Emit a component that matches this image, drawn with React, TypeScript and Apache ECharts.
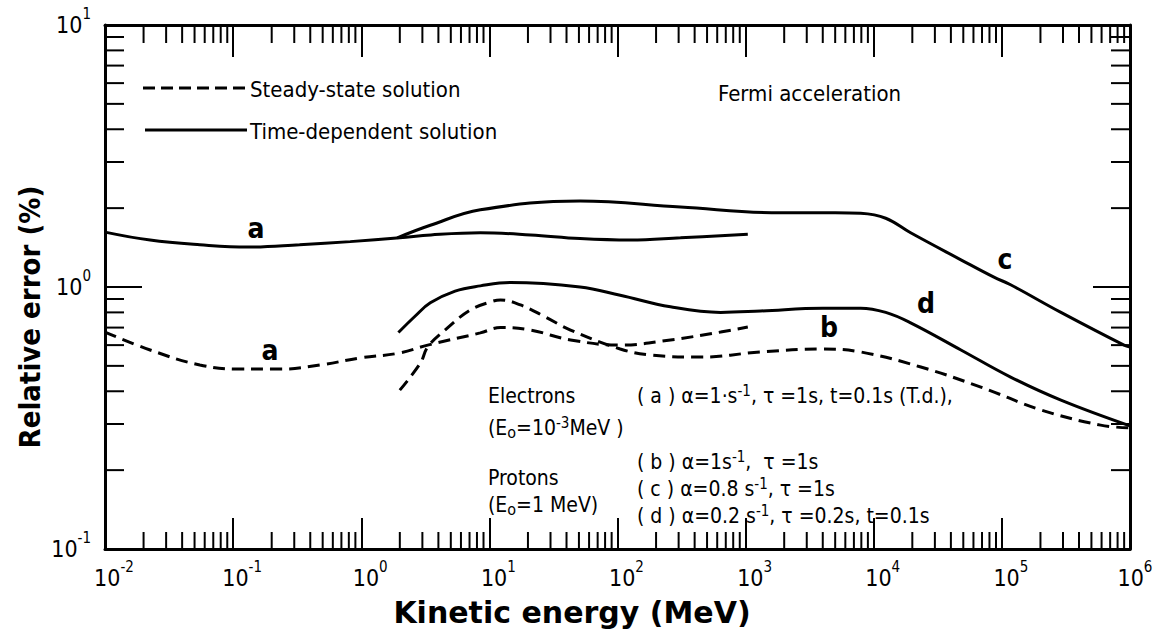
import React, { useEffect, useRef } from 'react';
import * as echarts from 'echarts';

// ---------- data ----------
const X_MIN = 0.01;
const X_MAX = 1e6;
const Y_MIN = 0.1;
const Y_MAX = 10;

const decadesX = [0.01, 0.1, 1, 10, 100, 1000, 10000, 100000];
const decadesY = [0.1, 1];
const minorMultipliers = [2, 3, 4, 5, 6, 7, 8, 9];

// (a) electrons, time-dependent (solid)
const tdA_E = [0.01, 0.0225, 0.055, 0.13, 0.33, 0.82, 2.0, 3.5, 8.5, 21, 51, 126, 310, 1040];
const tdA_err = [1.62, 1.51, 1.45, 1.42, 1.45, 1.49, 1.54, 1.58, 1.61, 1.58, 1.53, 1.51, 1.54, 1.59];

// (c) protons, time-dependent (solid)
const tdC_E = [1.91, 3.46, 8.5, 51, 310, 1875, 5000, 7900, 12400, 19400, 47900, 86700, 117000, 289000, 898000, 1e6];
const tdC_err = [1.54, 1.72, 1.97, 2.13, 2.02, 1.92, 1.92, 1.91, 1.83, 1.61, 1.27, 1.09, 1.02, 0.8, 0.6, 0.59];

// (d) protons, time-dependent (solid)
const tdD_E = [1.95, 2.64, 3.46, 5.4, 8.5, 14.6, 51, 105, 259, 638, 1310, 4000, 7900, 12400, 19400, 47900, 117000, 289000, 1e6];
const tdD_err = [0.67, 0.775, 0.87, 0.965, 1.01, 1.04, 1.0, 0.93, 0.84, 0.8, 0.81, 0.83, 0.83, 0.8, 0.73, 0.575, 0.453, 0.37, 0.295];

// (a) electrons, steady-state (dashed)
const ssA_E = [0.01, 0.0225, 0.055, 0.114, 0.233, 0.48, 0.98, 2.0, 3.3, 8.5, 12.2, 20.9, 43, 105, 259, 638, 1040];
const ssA_err = [0.673, 0.575, 0.504, 0.486, 0.486, 0.504, 0.536, 0.56, 0.6, 0.668, 0.7, 0.685, 0.628, 0.6, 0.628, 0.673, 0.703];

// (b) protons, steady-state (dashed)
const ssB_E = [2.0, 2.9, 3.3, 4.5, 7.1, 10.2, 12.2, 17.5, 27.4, 43, 105, 180, 445, 1310, 3850, 7900, 23300, 68500, 200000, 590000, 1e6];
const ssB_err = [0.404, 0.513, 0.59, 0.685, 0.817, 0.877, 0.892, 0.854, 0.768, 0.685, 0.58, 0.55, 0.54, 0.565, 0.58, 0.565, 0.495, 0.415, 0.34, 0.297, 0.29];

const FONT = "'DejaVu Sans Condensed', 'DejaVu Sans', sans-serif";

const pairs = (xs: number[], ys: number[]) => xs.map((x, i) => [x, ys[i]]);

export default function App() {
  const ref = useRef<HTMLDivElement>(null);

  useEffect(() => {
    document.body.style.margin = '0';
    const chart = echarts.init(ref.current!, null, { renderer: 'svg' });

    const xMinor: number[] = [];
    decadesX.forEach((d) => minorMultipliers.forEach((m) => xMinor.push(d * m)));
    const yMinor: number[] = [];
    decadesY.forEach((d) => minorMultipliers.forEach((m) => yMinor.push(d * m)));

    const tickStyle = { stroke: '#000', lineWidth: 2 };

    const baseTok = { fontSize: 23, fontFamily: FONT, color: '#000', lineHeight: 38 };
    const supTok = { fontSize: 15, fontFamily: FONT, color: '#000', lineHeight: 16, verticalAlign: 'top' };
    const yLabelRich = { b: baseTok, s: supTok };
    const xLabelRich = {
      b: { ...baseTok, padding: [0, 0, 0, 18] },
      e: { ...baseTok, padding: [0, 0, 0, 10] },
      s: supTok,
    };
    const powFmt = (v: number) => {
      const e = Math.round(Math.log10(v));
      return `{b|10}{s|${e}}`;
    };
    const powFmtX = (v: number) => {
      const e = Math.round(Math.log10(v));
      return e === 6 ? `{e|10}{s|${e}}` : `{b|10}{s|${e}}`;
    };

    const lineSeries = (name: string, xs: number[], ys: number[], dashed: boolean) => ({
      name,
      type: 'line',
      data: pairs(xs, ys),
      smooth: 0.4,
      showSymbol: false,
      symbol: 'none',
      silent: true,
      lineStyle: { color: '#000', width: 3, type: dashed ? [12, 7] : 'solid' },
    });

    const txt = (text: string, x: number, y: number, size: number, extra: any = {}, el: any = {}) => ({
      type: 'text',
      x,
      y,
      silent: true,
      ...el,
      style: {
        text,
        fontSize: size,
        fontFamily: FONT,
        fill: '#000',
        verticalAlign: 'middle',
        align: 'left',
        ...extra,
      },
    });

    const richAnn = {
      sup: { fontSize: 15, fontFamily: FONT, fill: '#000', lineHeight: 10, verticalAlign: 'top' },
      sub: { fontSize: 16, fontFamily: FONT, fill: '#000', lineHeight: 16, verticalAlign: 'bottom' },
    };
    const ann = (text: string, x: number, y: number) =>
      txt(text, x, y, 21, { lineHeight: 25, rich: richAnn });

    chart.setOption({
      animation: false,
      backgroundColor: '#fff',
      grid: { left: 105, right: 25, top: 25, bottom: 92, containLabel: false, outerBoundsMode: 'none' },
      xAxis: [
        {
          type: 'log',
          logBase: 10,
          min: X_MIN,
          max: X_MAX,
          interval: 1,
          position: 'bottom',
          axisLine: { show: true, lineStyle: { color: '#000', width: 3 } },
          axisTick: { show: true, inside: true, length: 31, lineStyle: { color: '#000', width: 2 } },
          axisLabel: { show: true, margin: 10, formatter: powFmtX, rich: xLabelRich },
          splitLine: { show: false },
        },
        {
          type: 'log',
          logBase: 10,
          min: X_MIN,
          max: X_MAX,
          interval: 1,
          position: 'top',
          axisLine: { show: true, lineStyle: { color: '#000', width: 3 } },
          axisTick: { show: true, inside: true, length: 32, lineStyle: { color: '#000', width: 2 } },
          axisLabel: { show: false },
          splitLine: { show: false },
        },
      ],
      yAxis: [
        {
          type: 'log',
          logBase: 10,
          min: Y_MIN,
          max: Y_MAX,
          interval: 1,
          position: 'left',
          axisLine: { show: true, lineStyle: { color: '#000', width: 3 } },
          axisTick: { show: true, inside: true, length: 37, lineStyle: { color: '#000', width: 2 } },
          axisLabel: { show: true, margin: 14, formatter: powFmt, rich: yLabelRich },
          splitLine: { show: false },
        },
        {
          type: 'log',
          logBase: 10,
          min: Y_MIN,
          max: Y_MAX,
          interval: 1,
          position: 'right',
          axisLine: { show: true, lineStyle: { color: '#000', width: 3 } },
          axisTick: { show: true, inside: true, length: 37, lineStyle: { color: '#000', width: 2 } },
          axisLabel: { show: false },
          splitLine: { show: false },
        },
      ],
      series: [
        lineSeries('Time-dependent a', tdA_E, tdA_err, false),
        lineSeries('Time-dependent c', tdC_E, tdC_err, false),
        lineSeries('Time-dependent d', tdD_E, tdD_err, false),
        lineSeries('Steady-state a', ssA_E, ssA_err, true),
        lineSeries('Steady-state b', ssB_E, ssB_err, true),
        {
          type: 'custom',
          coordinateSystem: 'cartesian2d',
          silent: true,
          clip: false,
          data: xMinor.map((v) => [v, 1]),
          renderItem: (params: any, api: any) => {
            const v = api.value(0);
            const b = api.coord([v, Y_MIN]);
            const t = api.coord([v, Y_MAX]);
            return {
              type: 'group',
              children: [
                { type: 'line', shape: { x1: b[0], y1: b[1], x2: b[0], y2: b[1] - 17 }, style: tickStyle },
                { type: 'line', shape: { x1: t[0], y1: t[1], x2: t[0], y2: t[1] + 18 }, style: tickStyle },
              ],
            };
          },
        },
        {
          type: 'custom',
          coordinateSystem: 'cartesian2d',
          silent: true,
          clip: false,
          data: yMinor.map((v) => [1, v]),
          renderItem: (params: any, api: any) => {
            const v = api.value(1);
            const l = api.coord([X_MIN, v]);
            const r = api.coord([X_MAX, v]);
            return {
              type: 'group',
              children: [
                { type: 'line', shape: { x1: l[0], y1: l[1], x2: l[0] + 19, y2: l[1] }, style: tickStyle },
                { type: 'line', shape: { x1: r[0], y1: r[1], x2: r[0] - 19, y2: r[1] }, style: tickStyle },
              ],
            };
          },
        },
      ],
      graphic: [
        // legend
        { type: 'line', silent: true, shape: { x1: 143, y1: 88, x2: 247, y2: 88 }, style: { stroke: '#000', lineWidth: 3, lineDash: [12, 6] } },
        txt('Steady-state solution', 250, 89, 22),
        { type: 'line', silent: true, shape: { x1: 145, y1: 130, x2: 247, y2: 130 }, style: { stroke: '#000', lineWidth: 3 } },
        txt('Time-dependent solution', 250, 131, 22),
        txt('Fermi acceleration', 718, 93, 22),
        // curve labels
        txt('a', 256, 228, 28, { align: 'center', fontWeight: 'bold' }),
        txt('a', 270, 350, 28, { align: 'center', fontWeight: 'bold' }),
        txt('b', 829, 327, 28, { align: 'center', fontWeight: 'bold' }),
        txt('c', 1005, 259, 28, { align: 'center', fontWeight: 'bold' }),
        txt('d', 926, 303, 28, { align: 'center', fontWeight: 'bold' }),
        // annotations
        ann('Electrons', 488, 396),
        ann('(E{sub|o}=10{sup|-3}MeV )', 488, 428),
        ann('Protons', 488, 478),
        ann('(E{sub|o}=1 MeV)', 488, 505),
        ann('( a ) α=1·s{sup|-1}, τ =1s, t=0.1s (T.d.),', 637, 396),
        ann('( b ) α=1s{sup|-1},  τ =1s', 637, 462),
        ann('( c ) α=0.8 s{sup|-1}, τ =1s', 637, 489),
        ann('( d ) α=0.2 s{sup|-1}, τ =0.2s, t=0.1s', 637, 516),
        // axis titles
        txt('Relative error (%)', 30, 317, 29, { align: 'center', fontWeight: 'bold' }, { rotation: Math.PI / 2 }),
        txt('Kinetic energy (MeV)', 572, 612, 30, { align: 'center', fontWeight: 'bold', fontFamily: "'DejaVu Sans', sans-serif" }),
      ],
    });

    return () => chart.dispose();
  }, []);

  return <div ref={ref} style={{ width: 1155, height: 641 }} />;
}
